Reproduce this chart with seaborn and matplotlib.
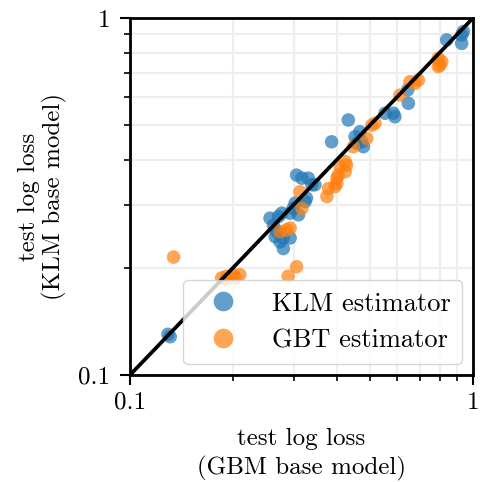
import numpy as np
import pandas as pd
import matplotlib
matplotlib.use("Agg")
import matplotlib.pyplot as plt
import seaborn as sns

# KLM estimator points (x: GBM base model loss, y: KLM base model loss)
klm_x = [0.129, 0.131, 0.256, 0.262, 0.268, 0.265, 0.274, 0.280, 0.293, 0.280,
         0.271, 0.277, 0.293, 0.310, 0.299, 0.303, 0.324, 0.327, 0.306, 0.317,
         0.331, 0.339, 0.346, 0.387, 0.433, 0.453, 0.468, 0.474, 0.479, 0.458,
         0.554, 0.586, 0.592, 0.648, 0.645, 0.838, 0.927, 0.937, 0.927]
klm_y = [0.130, 0.128, 0.275, 0.263, 0.252, 0.244, 0.236, 0.226, 0.242, 0.242,
         0.278, 0.284, 0.284, 0.281, 0.293, 0.303, 0.306, 0.313, 0.363, 0.356,
         0.356, 0.341, 0.341, 0.450, 0.518, 0.465, 0.480, 0.450, 0.436, 0.446,
         0.541, 0.541, 0.529, 0.577, 0.629, 0.868, 0.896, 0.916, 0.849]

# GBT estimator points
gbt_x = [0.134, 0.185, 0.191, 0.200, 0.209, 0.202, 0.191, 0.306, 0.289, 0.274,
         0.286, 0.293, 0.317, 0.313, 0.375, 0.379, 0.396, 0.401, 0.401, 0.405,
         0.424, 0.428, 0.410, 0.424, 0.448, 0.490, 0.507, 0.518, 0.612, 0.655,
         0.677, 0.693, 0.792, 0.811, 0.792, 0.801]
gbt_y = [0.214, 0.187, 0.189, 0.191, 0.191, 0.187, 0.185, 0.201, 0.189, 0.252,
         0.255, 0.258, 0.293, 0.326, 0.316, 0.333, 0.337, 0.344, 0.356, 0.363,
         0.371, 0.387, 0.383, 0.396, 0.436, 0.460, 0.501, 0.507, 0.608, 0.663,
         0.656, 0.670, 0.771, 0.755, 0.731, 0.738]

series_names = ["KLM estimator", "GBT estimator"]
tick_vals = [0.1, 1]
tick_labels = ["0.1", "1"]
minor_vals = [0.2, 0.3, 0.4, 0.5, 0.6, 0.7, 0.8, 0.9]
xlabel = "test log loss\n(GBM base model)"
ylabel = "test log loss\n(KLM base model)"

df = pd.DataFrame({
    "x": klm_x + gbt_x,
    "y": klm_y + gbt_y,
    "estimator": [series_names[0]] * len(klm_x) + [series_names[1]] * len(gbt_x),
})

plt.rcParams["font.family"] = "serif"
plt.rcParams["font.serif"] = ["cmr10", "DejaVu Serif"]
plt.rcParams["mathtext.fontset"] = "cm"
plt.rcParams["axes.formatter.use_mathtext"] = True
plt.rcParams["axes.unicode_minus"] = False

FS = 18

fig = plt.figure(figsize=(4.80, 4.82), dpi=100)
ax = fig.add_axes([130 / 480, 1 - 375 / 482, 343 / 480, 357 / 482])

sns.scatterplot(data=df, x="x", y="y", hue="estimator",
                palette=["#1f77b4", "#ff7f0e"], alpha=0.7, s=95,
                linewidth=0, ax=ax, zorder=3)

ax.set_xscale("log")
ax.set_yscale("log")
ax.set_xlim(0.1, 1)
ax.set_ylim(0.1, 1)
ax.plot([0.1, 1], [0.1, 1], color="black", lw=2.7, zorder=4)

ax.set_xticks(tick_vals)
ax.set_xticklabels(tick_labels)
ax.set_yticks(tick_vals)
ax.set_yticklabels(tick_labels)
ax.set_xticks(minor_vals, minor=True)
ax.set_yticks(minor_vals, minor=True)
ax.xaxis.set_minor_formatter(matplotlib.ticker.NullFormatter())
ax.yaxis.set_minor_formatter(matplotlib.ticker.NullFormatter())

ax.tick_params(which="major", length=7, width=1.5, labelsize=FS, color="black", pad=5)
ax.tick_params(axis="y", which="major", pad=7)
ax.tick_params(which="minor", length=4.5, width=1.2, color="black")
ax.grid(True, which="both", color="#eeeeee", lw=1.6, zorder=0)
ax.set_axisbelow(True)
for sp in ax.spines.values():
    sp.set_linewidth(2.0)
    sp.set_color("black")

ax.set_xlabel(xlabel, fontsize=FS, labelpad=10, linespacing=1.35)
ax.set_ylabel(ylabel, fontsize=FS, labelpad=8, linespacing=1.1)

sns.move_legend(ax, "lower right", title=None, fontsize=19, markerscale=1.45,
                frameon=True, framealpha=0.8, edgecolor="#cccccc",
                handlelength=2.1, handletextpad=0.8, borderpad=0.45,
                labelspacing=0.5, borderaxespad=0.4)

fig.savefig("out.png", dpi=100)
